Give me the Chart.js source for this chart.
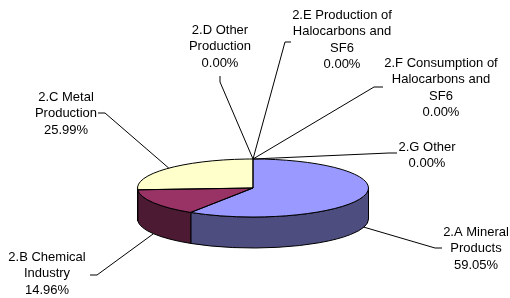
<!DOCTYPE html>
<html><head><meta charset="utf-8">
<script src="https://cdn.jsdelivr.net/npm/chart.js@4.4.1/dist/chart.umd.min.js"></script>
<style>html,body{margin:0;padding:0;background:#fff;overflow:hidden}canvas{display:block}</style>
</head><body>
<canvas id="c" width="510" height="298"></canvas>
<script>
// ---- data ----
const categories = ['2.A Mineral Products', '2.B Chemical Industry', '2.C Metal Production', '2.D Other Production',
  '2.E Production of Halocarbons and SF6', '2.F Consumption of Halocarbons and SF6', '2.G Other'];
const labelLines = [['2.A Mineral', 'Products'], ['2.B Chemical', 'Industry'], ['2.C Metal', 'Production'],
  ['2.D Other', 'Production'], ['2.E Production of', 'Halocarbons and', 'SF6'],
  ['2.F Consumption of', 'Halocarbons and', 'SF6'], ['2.G Other']];
const values = [59.05, 14.96, 25.99, 0, 0, 0, 0];

// ---- styles / layout ----
const topColors = ['#9999FF', '#993366', '#FFFFCC', '#000080', '#FF00FF', '#FFFF00', '#00FFFF'];
const sideColors = ['#4D4D80', '#4D1A33', '#808066', '#000040', '#800080', '#808000', '#008080'];
const PIE = { cy: 188, ry: 29, depth: 31 };
const LABEL_POS = [
  { x: 476, y: 232, line: [[442, 248], [435, 248]] },
  { x: 47, y: 257, line: [[90, 275], [97, 275]] },
  { x: 66, y: 97, line: [[98, 113], [105, 113]] },
  { x: 220, y: 30, line: [[220, 76], [220, 82]] },
  { x: 342, y: 15, line: [[291, 42], [285, 42]] },
  { x: 441, y: 63, line: [[383, 87], [374, 87]] },
  { x: 427, y: 147, line: [[397, 153], [389, 153]] }
];
const LINE_H = 16.5;

const pie3d = {
  id: 'pie3d',
  beforeDatasetsDraw(chart) {
    const ctx = chart.ctx;
    const arcs = chart.getDatasetMeta(0).data;
    const p0 = arcs[0].getProps(['x', 'y', 'outerRadius'], true);
    const cx = p0.x, r = p0.outerRadius;
    const { cy, ry, depth } = PIE;
    arcs.forEach((arc, i) => {
      const p = arc.getProps(['startAngle', 'endAngle'], true);
      const b0 = Math.max(p.startAngle, 0), b1 = Math.min(p.endAngle, Math.PI);
      if (b1 - b0 <= 1e-6) return;
      ctx.beginPath();
      ctx.ellipse(cx, cy, r, ry, 0, b0, b1);
      ctx.ellipse(cx, cy + depth, r, ry, 0, b1, b0, true);
      ctx.closePath();
      ctx.fillStyle = sideColors[i];
      ctx.fill();
      ctx.lineWidth = 1;
      ctx.strokeStyle = '#000';
      ctx.stroke();
    });
    ctx.save();
    ctx.translate(cx, cy);
    ctx.scale(1, ry / r);
    ctx.translate(-cx, -p0.y);
  },
  afterDatasetsDraw(chart) {
    const ctx = chart.ctx;
    ctx.restore();
    const arcs = chart.getDatasetMeta(0).data;
    const p0 = arcs[0].getProps(['x', 'y', 'outerRadius'], true);
    const cx = p0.x, r = p0.outerRadius;
    const { cy, ry, depth } = PIE;
    ctx.lineWidth = 1;
    ctx.strokeStyle = '#000';
    arcs.forEach((arc) => {
      const p = arc.getProps(['startAngle', 'endAngle'], true);
      if (p.endAngle - p.startAngle <= 1e-6) return;
      ctx.beginPath();
      ctx.moveTo(cx, cy);
      ctx.ellipse(cx, cy, r, ry, 0, p.startAngle, p.endAngle);
      ctx.closePath();
      ctx.stroke();
    });
    const total = values.reduce((a, b) => a + b, 0);
    ctx.font = '13px "Liberation Sans", Arial, sans-serif';
    ctx.fillStyle = '#000';
    ctx.textAlign = 'center';
    ctx.textBaseline = 'middle';
    arcs.forEach((arc, i) => {
      const p = arc.getProps(['startAngle', 'endAngle'], true);
      const m = (p.startAngle + p.endAngle) / 2;
      const s = Math.sin(m);
      const ax = cx + r * Math.cos(m);
      const ay = cy + ry * s + (s > 0 ? depth : 0);
      const L = LABEL_POS[i];
      ctx.beginPath();
      ctx.moveTo(L.line[0][0], L.line[0][1]);
      for (let k = 1; k < L.line.length; k++) ctx.lineTo(L.line[k][0], L.line[k][1]);
      ctx.lineTo(ax, ay);
      ctx.stroke();
      const lines = labelLines[i].concat([(values[i] / total * 100).toFixed(2) + '%']);
      lines.forEach((t, k) => ctx.fillText(t, L.x, L.y + k * LINE_H));
    });
  }
};

new Chart(document.getElementById('c'), {
  type: 'pie',
  data: {
    labels: categories,
    datasets: [{
      data: values,
      backgroundColor: topColors,
      borderWidth: 0,
      clip: false
    }]
  },
  options: {
    responsive: false,
    animation: false,
    layout: { padding: { left: 137.5, right: 141.5, top: 0, bottom: 0 } },
    plugins: { legend: { display: false }, tooltip: { enabled: false } }
  },
  plugins: [pie3d]
});
</script>
</body></html>
